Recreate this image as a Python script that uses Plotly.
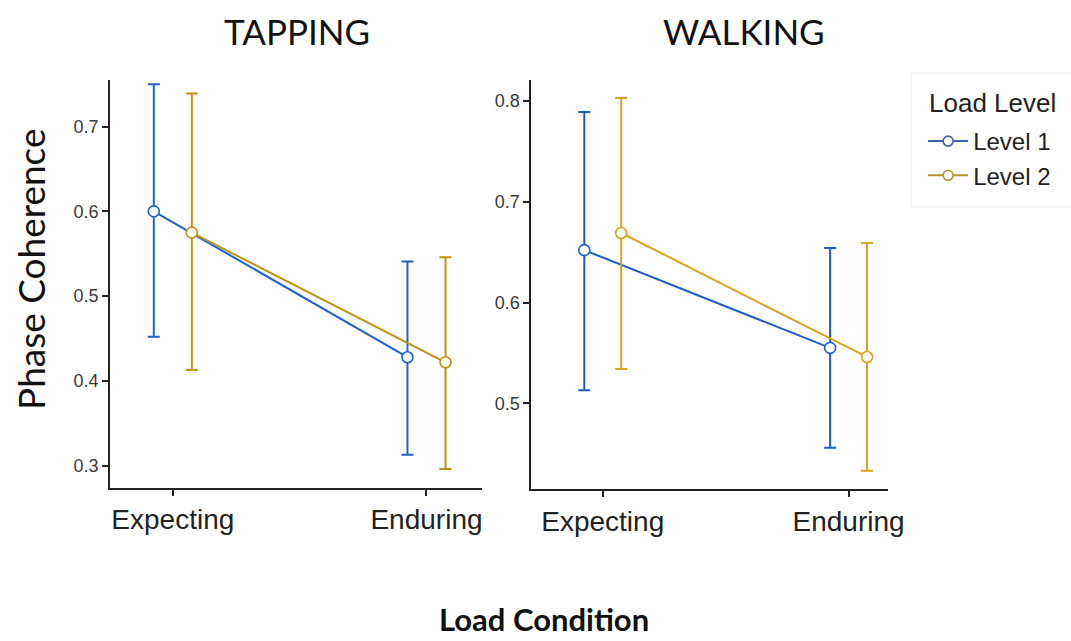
import plotly.graph_objects as go

categories = ["Expecting", "Enduring"]
levels = ["Level 1", "Level 2"]

# TAPPING
tap_mean = {"Level 1": [0.600, 0.428], "Level 2": [0.575, 0.422]}
tap_hi = {"Level 1": [0.750, 0.541], "Level 2": [0.739, 0.546]}
tap_lo = {"Level 1": [0.452, 0.313], "Level 2": [0.413, 0.296]}

# WALKING
walk_mean = {"Level 1": [0.652, 0.555], "Level 2": [0.669, 0.546]}
walk_hi = {"Level 1": [0.789, 0.654], "Level 2": [0.803, 0.659]}
walk_lo = {"Level 1": [0.513, 0.456], "Level 2": [0.534, 0.433]}

tap_colors = {"Level 1": "#1b63c6", "Level 2": "#c4900e"}
walk_colors = {"Level 1": "#1a5acb", "Level 2": "#dfa11a"}
legend_colors = {"Level 1": "#3b62a6", "Level 2": "#b8902a"}
dodge = {"Level 1": -0.075, "Level 2": 0.075}

# effective render width / height used for paper-coordinate layout
W, H = 1056.0, 641.0
def px(x):
    return x / W
def py(y):
    return 1 - y / H

fig = go.Figure()

def add_panel(mean, hi, lo, colors, xa, ya):
    for lv in levels:
        xs = [i + dodge[lv] for i in range(len(categories))]
        fig.add_trace(go.Scatter(
            x=xs, y=mean[lv], mode="lines+markers", name=lv,
            showlegend=False, xaxis=xa, yaxis=ya,
            line=dict(color=colors[lv], width=2),
            marker=dict(symbol="circle", size=11, color="white",
                        line=dict(color=colors[lv], width=1.6)),
            error_y=dict(type="data", symmetric=False,
                         array=[h - m for h, m in zip(hi[lv], mean[lv])],
                         arrayminus=[m - l for l, m in zip(lo[lv], mean[lv])],
                         color=colors[lv], thickness=2, width=6),
        ))

add_panel(tap_mean, tap_hi, tap_lo, tap_colors, "x", "y")
add_panel(walk_mean, walk_hi, walk_lo, walk_colors, "x2", "y2")

# legend entries
for lv in levels:
    fig.add_trace(go.Scatter(
        x=[None], y=[None], mode="lines+markers", name=lv, showlegend=True,
        line=dict(color=legend_colors[lv], width=2),
        marker=dict(symbol="circle", size=10, color="white",
                    line=dict(color=legend_colors[lv], width=1.6)),
    ))

axis_common = dict(showline=True, linecolor="#222", linewidth=1.5,
                   ticks="outside", tickcolor="#222", ticklen=6, tickwidth=1.5,
                   showgrid=False, zeroline=False)

title_font = "Lato, Open Sans, sans-serif"

fig.update_layout(
    width=1071, height=641,
    margin=dict(l=0, r=0, t=0, b=0),
    paper_bgcolor="white", plot_bgcolor="white",
    font=dict(family="Liberation Sans, Arial, sans-serif", color="#333"),
    xaxis=dict(domain=[px(110), px(482)], range=[-0.248, 1.217],
               tickvals=[0, 1], ticktext=categories,
               tickfont=dict(size=28, color="#222"), anchor="y", **axis_common),
    yaxis=dict(domain=[py(488), py(80)], range=[0.2737, 0.755],
               tickvals=[0.3, 0.4, 0.5, 0.6, 0.7],
               tickfont=dict(size=18, color="#3a3a3a"), anchor="x", **axis_common),
    xaxis2=dict(domain=[px(531.7), px(889)], range=[-0.291, 1.161],
                tickvals=[0, 1], ticktext=categories,
                tickfont=dict(size=28, color="#222"), anchor="y2", **axis_common),
    yaxis2=dict(domain=[py(489.3), py(80)], range=[0.4147, 0.8208],
                tickvals=[0.5, 0.6, 0.7, 0.8],
                tickfont=dict(size=18, color="#3a3a3a"), anchor="x2", **axis_common),
    legend=dict(x=px(924), y=py(119), xanchor="left", yanchor="top",
                font=dict(size=24, color="#222"),
                bgcolor="rgba(0,0,0,0)", borderwidth=0,
                tracegroupgap=0, itemwidth=40),
    shapes=[
        dict(type="rect", xref="paper", yref="paper",
             x0=px(912), x1=px(1080), y0=py(207), y1=py(73),
             line=dict(color="#efefef", width=1), fillcolor="rgba(0,0,0,0)"),
    ],
    annotations=[
        dict(text="Load Level", x=px(928), y=py(103), xref="paper", yref="paper",
             xanchor="left", yanchor="middle", showarrow=False,
             font=dict(size=26, color="#222")),
        dict(text="TAPPING", x=px(297), y=py(31), xref="paper", yref="paper",
             xanchor="center", yanchor="middle", showarrow=False,
             font=dict(family=title_font, size=35, color="#111")),
        dict(text="WALKING", x=px(745), y=py(31), xref="paper", yref="paper",
             xanchor="center", yanchor="middle", showarrow=False,
             font=dict(family=title_font, size=35, color="#111")),
        dict(text="Phase Coherence", x=px(30), y=py(269), xref="paper", yref="paper",
             xanchor="center", yanchor="middle", textangle=-90, showarrow=False,
             font=dict(family=title_font, size=37, color="#111")),
        dict(text="<b>Load Condition</b>", x=px(545), y=py(619), xref="paper", yref="paper",
             xanchor="center", yanchor="middle", showarrow=False,
             font=dict(family=title_font, size=31, color="#111")),
    ],
)

fig.write_html("out.html")
